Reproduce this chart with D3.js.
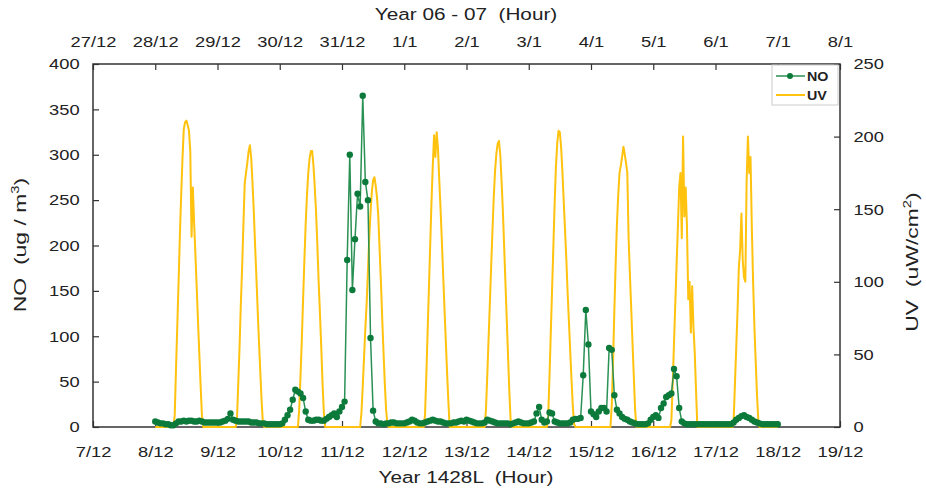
<html>
<head>
<style>
body {
	margin: 0;
	background: #fff;
	font-family: 'Liberation Sans', Arial, sans-serif;
}
svg text {
	fill: #222;
}
</style>
</head>
<body>
<svg width="926" height="489"></svg>
<script src="https://cdn.jsdelivr.net/npm/d3@7"></script>
<script>
// tick labels (one per day, bottom = Hijri, top = Gregorian)
const bottomLabels = ["7/12","8/12","9/12","10/12","11/12","12/12","13/12","14/12","15/12","16/12","17/12","18/12","19/12"];
const topLabels = ["27/12","28/12","29/12","30/12","31/12","1/1","2/1","3/1","4/1","5/1","6/1","7/1","8/1"];
const noTicks = [0,50,100,150,200,250,300,350,400];
const uvTicks = [0,50,100,150,200,250];

// NO hourly values (ug/m3), one array per day, starting 8/12 00:00
const noDay8  = [6,5,4,4,3,3,2,2,4,6,6,7,6,7,7,6,6,7,6,5,5,5,5,5];
const noDay9  = [5,5,6,7,9,15,8,7,6,6,6,6,6,5,5,5,4,4,4,3,3,3,3,3];
const noDay10 = [3,4,8,13,19,30,41,39,37,32,17,8,7,7,8,8,7,7,9,11,13,15,11,17];
const noDay11 = [22,28,184,300,151,207,257,243,365,270,250,98,18,6,4,4,3,4,4,5,5,4,4,4];
const noDay12 = [4,5,6,8,7,5,4,4,5,6,7,8,7,6,6,5,4,4,4,5,5,6,7,6];
const noDay13 = [8,7,6,5,4,4,4,5,8,7,6,5,4,4,4,4,4,3,4,5,6,5,4,4];
const noDay14 = [4,5,6,15,22,8,5,6,16,15,6,5,4,4,4,4,5,8,9,9,10,57,129,91];
const noDay15 = [17,14,11,17,21,21,17,87,85,35,19,15,11,9,8,6,5,4,3,3,3,3,4,8];
const noDay16 = [11,13,10,21,26,33,35,37,64,56,21,6,4,3,3,3,3,3,3,3,3,3,3,3];
const noDay17 = [3,3,3,3,3,3,3,5,8,10,12,13,11,10,8,6,5,4,3,3,3,3,3,3];
const noDay18 = [3];

// UV values (uW/cm2), half-hourly from 6:00 to 18:30 each day, zero at night
const uvDay8  = [0,0,0,8,40,70,100,132,160,185,205,210,211,208,204,190,131,165,140,118,95,72,50,28,8,0];
const uvDay9  = [0,0,0,5,30,55,85,110,140,168,175,182,190,194,185,168,148,125,103,80,58,38,18,3,0,0];
const uvDay10 = [0,0,0,12,35,60,88,115,140,160,175,185,190,190,180,165,148,125,100,78,55,30,10,0,0,0];
const uvDay11 = [0,0,0,10,28,48,68,85,108,130,148,162,170,172,166,158,145,122,100,75,52,30,12,2,0,0];
const uvDay12 = [0,0,0,0,8,35,65,95,125,155,180,201,186,203,192,170,150,128,105,82,60,38,18,0,0,0];
const uvDay13 = [0,0,0,12,35,60,85,110,135,158,176,188,195,197,188,170,150,125,100,75,50,25,5,0,0,0];
const uvDay14 = [0,0,0,8,35,65,95,125,155,180,196,204,203,192,175,155,135,115,92,72,52,32,14,2,0,0];
const uvDay15 = [0,0,0,0,15,45,80,112,140,160,175,180,186,193,188,182,175,130,105,82,58,35,12,0,0,0];
const uvDay16 = [0,0,5,30,58,85,112,138,165,175,130,200,145,165,138,88,100,65,97,69,51,25,0,0,0,0];
const uvDay17 = [0,0,5,30,55,80,110,122,147,115,103,100,170,200,175,186,138,100,69,45,22,5,0,0,0,0];

const firstDay = 8;   // series start at 8/12 00:00
const lastDay = 18;   // series end at 18/12 00:00

const svg = d3.select("svg");
const mLeft = 93, mRight = 840, mTop = 64, mBottom = 427;
const stretch = 1.22; // text in the original is drawn wide

// x in hours since 7/12 00:00
const x = d3.scaleLinear().domain([0, 12 * 24]).range([mLeft, mRight]);
const yNO = d3.scaleLinear().domain([0, 400]).range([mBottom, mTop]);
const yUV = d3.scaleLinear().domain([0, 250]).range([mBottom, mTop]);

// build NO points
const noDays = [noDay8, noDay9, noDay10, noDay11, noDay12, noDay13, noDay14, noDay15, noDay16, noDay17, noDay18];
let noData = [];
noDays.forEach(function(arr, i) {
	arr.forEach(function(v, h) {
		noData.push({t: (firstDay - 7 + i) * 24 + h, v: v});
	});
});

// build UV points
const uvDays = [uvDay8, uvDay9, uvDay10, uvDay11, uvDay12, uvDay13, uvDay14, uvDay15, uvDay16, uvDay17];
let uvData = [{t: (firstDay - 7) * 24, v: 0}];
uvDays.forEach(function(arr, i) {
	arr.forEach(function(v, k) {
		uvData.push({t: (firstDay - 7 + i) * 24 + 6 + k * 0.5, v: v});
	});
});
uvData.push({t: (lastDay - 7) * 24, v: 0});

const dayTicks = d3.range(0, 12 * 24 + 1, 24);

// bottom axis
const gB = svg.append("g")
	.attr("transform", "translate(0," + mBottom + ")")
	.call(d3.axisBottom(x).tickValues(dayTicks).tickSize(-6).tickPadding(19)
		.tickFormat(function(d, i) { return bottomLabels[i]; }));
// top axis
const gT = svg.append("g")
	.attr("transform", "translate(0," + mTop + ")")
	.call(d3.axisTop(x).tickValues(dayTicks).tickSize(-6).tickPadding(17)
		.tickFormat(function(d, i) { return topLabels[i]; }));
// left axis
const gL = svg.append("g")
	.attr("transform", "translate(" + mLeft + ",0)")
	.call(d3.axisLeft(yNO).tickValues(noTicks).tickSize(-6).tickPadding(11));
// right axis
const gR = svg.append("g")
	.attr("transform", "translate(" + mRight + ",0)")
	.call(d3.axisRight(yUV).tickValues(uvTicks).tickSize(-6).tickPadding(11));

[gB, gT, gL, gR].forEach(function(g) {
	g.select(".domain").remove();
	g.selectAll(".tick line").attr("stroke", "#333").attr("stroke-width", 1.2);
	g.selectAll(".tick text")
		.attr("font-family", "'Liberation Sans', Arial, sans-serif")
		.attr("font-size", "15px")
		.attr("fill", "#222")
		.attr("transform", "scale(" + stretch + ",1)");
});

// plot frame
svg.append("rect")
	.attr("x", mLeft).attr("y", mTop)
	.attr("width", mRight - mLeft).attr("height", mBottom - mTop)
	.attr("fill", "none")
	.attr("stroke", "#333")
	.attr("stroke-width", 1.5);

// UV line
svg.append("path")
	.datum(uvData)
	.attr("fill", "none")
	.attr("stroke", "#FFC20E")
	.attr("stroke-width", 2)
	.attr("stroke-linejoin", "round")
	.attr("d", d3.line().x(function(d) { return x(d.t); }).y(function(d) { return yUV(d.v); }));

// NO line + markers
svg.append("path")
	.datum(noData)
	.attr("fill", "none")
	.attr("stroke", "#2a9155")
	.attr("stroke-width", 1.5)
	.attr("d", d3.line().x(function(d) { return x(d.t); }).y(function(d) { return yNO(d.v); }));

svg.append("g").selectAll("circle")
	.data(noData)
	.enter()
	.append("circle")
	.attr("cx", function(d) { return x(d.t); })
	.attr("cy", function(d) { return yNO(d.v); })
	.attr("r", 3.2)
	.attr("fill", "#0c7a3a");

// titles
svg.append("text")
	.attr("transform", "translate(466,20) scale(" + stretch + ",1)")
	.attr("text-anchor", "middle")
	.attr("font-size", "17px")
	.attr("xml:space", "preserve")
	.text("Year 06 - 07  (Hour)");

svg.append("text")
	.attr("transform", "translate(466,483) scale(" + stretch + ",1)")
	.attr("text-anchor", "middle")
	.attr("font-size", "17px")
	.attr("xml:space", "preserve")
	.text("Year 1428L  (Hour)");

const yTitle = svg.append("text")
	.attr("transform", "translate(26,245) rotate(-90) scale(1.35,1)")
	.attr("text-anchor", "middle")
	.attr("font-size", "17px")
	.attr("xml:space", "preserve");
yTitle.append("tspan").text("NO  (ug / m");
yTitle.append("tspan").attr("font-size", "11px").attr("dy", -7).text("3");
yTitle.append("tspan").attr("dy", 7).text(")");

const y2Title = svg.append("text")
	.attr("transform", "translate(918,262) rotate(-90) scale(1.35,1)")
	.attr("text-anchor", "middle")
	.attr("font-size", "17px")
	.attr("xml:space", "preserve");
y2Title.append("tspan").text("UV  (uW/cm");
y2Title.append("tspan").attr("font-size", "11px").attr("dy", -7).text("2");
y2Title.append("tspan").attr("dy", 7).text(")");

// legend
const lg = svg.append("g").attr("transform", "translate(772,65)");
lg.append("rect")
	.attr("width", 66).attr("height", 40)
	.attr("fill", "#fff")
	.attr("stroke", "#ccc");
lg.append("line")
	.attr("x1", 4).attr("x2", 33).attr("y1", 11).attr("y2", 11)
	.attr("stroke", "#2a9155").attr("stroke-width", 1.5);
lg.append("circle")
	.attr("cx", 18).attr("cy", 11).attr("r", 3)
	.attr("fill", "#0c7a3a");
lg.append("text")
	.attr("transform", "translate(35,16) scale(1.1,1)")
	.attr("font-size", "13px").attr("font-weight", "bold")
	.text("NO");
lg.append("line")
	.attr("x1", 4).attr("x2", 33).attr("y1", 30).attr("y2", 30)
	.attr("stroke", "#FFC20E").attr("stroke-width", 2);
lg.append("text")
	.attr("transform", "translate(35,35) scale(1.1,1)")
	.attr("font-size", "13px").attr("font-weight", "bold")
	.text("UV");
</script>
</body>
</html>
